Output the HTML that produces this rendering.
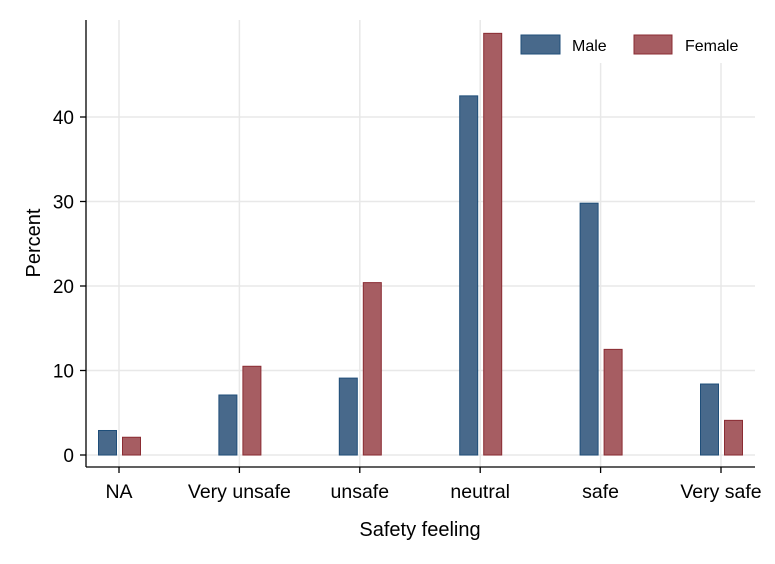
<!DOCTYPE html>
<html><head><meta charset="utf-8"><style>
body{margin:0;background:#fff}
svg{display:block;font-family:"Liberation Sans",Arial,sans-serif}
</style></head><body>
<svg id="chart" width="775" height="564"></svg>
<script>
const categories=["NA","Very unsafe","unsafe","neutral","safe","Very safe"];
const maleValues=[2.9,7.1,9.1,42.5,29.8,8.4];
const femaleValues=[2.1,10.5,20.4,49.9,12.5,4.1];
const yTicks=[0,10,20,30,40];
const NS="http://www.w3.org/2000/svg";
const svg=document.getElementById('chart');
function yS(v){return 455-v*8.45;}
function xS(i){return 119+i*120.4;}
function mk(t,a,p){const e=document.createElementNS(NS,t);for(const k in a)e.setAttribute(k,a[k]);(p||svg).appendChild(e);return e;}
const grid=mk('g',{});


yTicks.forEach(v=>{mk('line',{x1:86,x2:755,y1:yS(v),y2:yS(v),stroke:'#e8e8e8','stroke-width':1.5},grid);});
categories.forEach((c,i)=>{mk('line',{x1:xS(i),x2:xS(i),y1:20,y2:467,stroke:'#e8e8e8','stroke-width':1.5},grid);});
const lg=mk('g',{});


mk('rect',{x:508,y:20,width:247,height:43,fill:'#fff'},lg);
const lm=mk('rect',{x:521,y:35,width:39,height:19,fill:'#48698b',stroke:'#1f4e79','stroke-width':1},lg);


const lmt=mk('text',{x:572,y:51,'font-size':16,fill:'#000'},lg);lmt.textContent='Male';


const lf=mk('rect',{x:634,y:35,width:38,height:19,fill:'#a65d62',stroke:'#8b2c33','stroke-width':1},lg);


const lft=mk('text',{x:685,y:51,'font-size':16,fill:'#000'},lg);lft.textContent='Female';


categories.forEach((c,i)=>{
 const m=mk('rect',{x:xS(i)-20.5,y:yS(maleValues[i]),width:18,height:yS(0)-yS(maleValues[i]),fill:'#48698b',stroke:'#1f4e79','stroke-width':1});
 
 
 const f=mk('rect',{x:xS(i)+3.5,y:yS(femaleValues[i]),width:18,height:yS(0)-yS(femaleValues[i]),fill:'#a65d62',stroke:'#8b2c33','stroke-width':1});
 
 
});
const ax=mk('line',{x1:86,x2:86,y1:20,y2:467,stroke:'#000','stroke-width':1.3});


const bx=mk('line',{x1:86,x2:755,y1:467,y2:467,stroke:'#000','stroke-width':1.3});


yTicks.forEach(v=>{
 mk('line',{x1:80,x2:86,y1:yS(v),y2:yS(v),stroke:'#000','stroke-width':1.3});
 const t=mk('text',{x:74,y:yS(v)+7,'font-size':19,'text-anchor':'end',fill:'#000'});t.textContent=v;
 
 
});
categories.forEach((c,i)=>{
 mk('line',{x1:xS(i),x2:xS(i),y1:467,y2:473,stroke:'#000','stroke-width':1.3});
 const t=mk('text',{x:xS(i),y:498,'font-size':19.5,'text-anchor':'middle',fill:'#000'});t.textContent=c;
 
 
});
const xt=mk('text',{x:420,y:536,'font-size':20,'text-anchor':'middle',fill:'#000'});xt.textContent='Safety feeling';


const yt=mk('text',{x:40,y:243,'font-size':20,'text-anchor':'middle',fill:'#000',transform:'rotate(-90 40 243)'});yt.textContent='Percent';


</script>
</body></html>
